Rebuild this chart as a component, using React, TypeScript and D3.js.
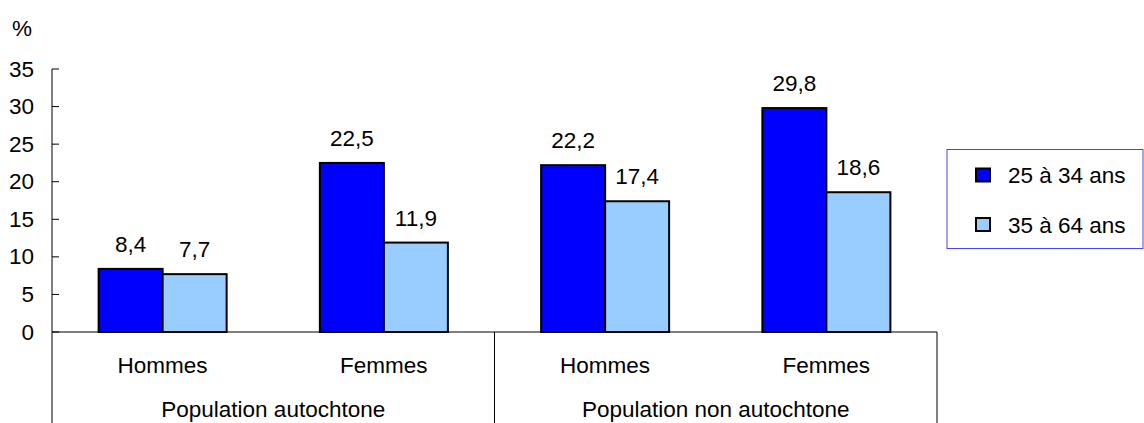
import React from "react";
import * as d3 from "d3";

const categories = ["Hommes", "Femmes", "Hommes", "Femmes"];
const groups = ["Population autochtone", "Population non autochtone"];
const seriesNames = ["25 à 34 ans", "35 à 64 ans"];
const series1 = [8.4, 22.5, 22.2, 29.8];
const series2 = [7.7, 11.9, 17.4, 18.6];
const yTicks = [0, 5, 10, 15, 20, 25, 30, 35];
const colors = ["#0000FF", "#99CCFF"];

const W = 1144, H = 423;
const left = 52, right = 937, top = 69, bottom = 332;
const font = "Liberation Sans, Arial, sans-serif";
const fs = 22.5;

export default function App() {
  const y = d3.scaleLinear().domain([0, 35]).range([bottom, top]);
  const x = d3.scaleBand().domain(categories.map((_, i) => String(i))).range([left, right]).paddingInner(0).paddingOuter(0);
  const bw = x.bandwidth();
  const barW = bw * 0.2893;
  const data = [series1, series2];
  const fmt = (v: number) => v.toFixed(1).replace(".", ",");
  const groupX = [left, left + bw * 2, right];

  return (
    <svg width={W} height={H} style={{ position: "absolute", left: 0, top: 0 }} fontFamily={font}>
      <rect width={W} height={H} fill="#fff" />
      <text x={12} y={36} fontSize={fs} fill="#000">%</text>
      {yTicks.map((t) => (
        <g key={t}>
          <line x1={left} x2={left + 7} y1={y(t)} y2={y(t)} stroke="#000" strokeWidth={1} />
          <text x={34} y={y(t) + 7.5} fontSize={fs} textAnchor="end" fill="#000">{t}</text>
        </g>
      ))}
      {categories.map((c, i) => {
        const cx = (x(String(i)) as number) + bw / 2;
        return (
          <g key={i}>
            {data.map((s, j) => {
              const bx = cx - barW + j * barW;
              return (
                <g key={j}>
                  <rect x={bx} y={y(s[i])} width={barW} height={bottom - y(s[i])} fill={colors[j]} stroke="#000" strokeWidth={2} />
                  <text x={bx + barW / 2} y={y(s[i]) - 17} fontSize={fs} textAnchor="middle" fill="#000">{fmt(s[i])}</text>
                </g>
              );
            })}
            <text x={cx} y={373} fontSize={fs} textAnchor="middle" fill="#000">{c}</text>
          </g>
        );
      })}
      {groups.map((g, k) => (
        <text key={g} x={(groupX[k] + groupX[k + 1]) / 2} y={417} fontSize={fs} textAnchor="middle" fill="#000">{g}</text>
      ))}
      <line x1={left} x2={left} y1={top} y2={H} stroke="#000" strokeWidth={1} />
      <line x1={left} x2={right} y1={bottom} y2={bottom} stroke="#000" strokeWidth={1} />
      {groupX.slice(1).map((gx, k) => (
        <line key={k} x1={gx} x2={gx} y1={bottom} y2={H} stroke="#000" strokeWidth={1} />
      ))}
      <rect x={947} y={149.5} width={196} height={99} fill="#fff" stroke="#4444ff" strokeWidth={1} />
      {seriesNames.map((n, j) => (
        <g key={n}>
          <rect x={976} y={168.5 + j * 49.5} width={14} height={13} fill={colors[j]} stroke="#000" strokeWidth={2} />
          <text x={1008} y={183 + j * 50} fontSize={fs} fill="#000">{n}</text>
        </g>
      ))}
    </svg>
  );
}
